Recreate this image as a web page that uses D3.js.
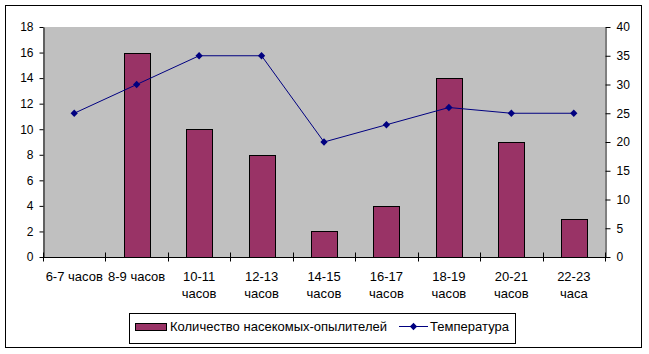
<!DOCTYPE html>
<html>
<head>
<meta charset="utf-8">
<script src="https://cdn.jsdelivr.net/npm/d3@7"></script>
<style>
  body { margin: 0; background: #fff; }
  text { font-family: "Liberation Sans", Arial, sans-serif; fill: #000; }
</style>
</head>
<body>
<div id="chart"></div>
<script>
// data
let categories = ["6-7 часов", "8-9 часов", "10-11 часов", "12-13 часов", "14-15 часов", "16-17 часов", "18-19 часов", "20-21 часов", "22-23 часа"];
let insects = [0, 16, 10, 8, 2, 4, 14, 9, 3];
let temperature = [25, 30, 35, 35, 20, 23, 26, 25, 25];
let leftTicks = [0, 2, 4, 6, 8, 10, 12, 14, 16, 18];
let rightTicks = [0, 5, 10, 15, 20, 25, 30, 35, 40];

let barColor = "#993366";
let lineColor = "#000080";
let plotBg = "#C0C0C0";

let W = 649, H = 354;
let plot = {left: 43, top: 27, right: 605, bottom: 257};

let svg = d3.select("#chart").append("svg")
    .attr("width", W)
    .attr("height", H);

// outer frame
svg.append("rect")
    .attr("x", 5.5).attr("y", 5.5)
    .attr("width", 636).attr("height", 342)
    .attr("fill", "#fff")
    .attr("stroke", "#000");

let x = d3.scaleBand()
    .domain(categories)
    .range([plot.left, plot.right])
    .paddingInner(0)
    .paddingOuter(0);

let yL = d3.scaleLinear().domain([0, 18]).range([plot.bottom, plot.top]);
let yR = d3.scaleLinear().domain([0, 40]).range([plot.bottom, plot.top]);

// plot area
svg.append("rect")
    .attr("x", plot.left).attr("y", plot.top)
    .attr("width", plot.right - plot.left)
    .attr("height", plot.bottom - plot.top)
    .attr("fill", plotBg);

// bars
let barW = 26;
svg.selectAll("rect.bar")
    .data(categories.map((c, i) => ({c: c, v: insects[i]})).filter(d => d.v > 0))
    .enter().append("rect")
    .attr("class", "bar")
    .attr("x", d => Math.round(x(d.c) + x.bandwidth() / 2 - barW / 2) + 0.5)
    .attr("y", d => Math.round(yL(d.v)) + 0.5)
    .attr("width", barW)
    .attr("height", d => Math.round(yL(0)) - Math.round(yL(d.v)))
    .attr("fill", barColor)
    .attr("stroke", "#000")
    .attr("stroke-width", 1);

// left axis
let gL = svg.append("g")
    .attr("transform", "translate(" + (plot.left + 0.5) + ",0)")
    .call(d3.axisLeft(yL).tickValues(leftTicks).tickSize(4).tickPadding(6).tickSizeOuter(0));
gL.selectAll("text").style("font-size", "12px").style("font-family", "Liberation Sans, Arial, sans-serif");

// right axis
let gR = svg.append("g")
    .attr("transform", "translate(" + (plot.right + 0.5) + ",0)")
    .call(d3.axisRight(yR).tickValues(rightTicks).tickSize(5).tickPadding(6).tickSizeOuter(0));
gR.selectAll("text").style("font-size", "12px").style("font-family", "Liberation Sans, Arial, sans-serif");

// bottom axis: ticks at category boundaries
let gB = svg.append("g")
    .attr("transform", "translate(0," + (plot.bottom + 0.5) + ")");
gB.append("line")
    .attr("x1", plot.left).attr("x2", plot.right + 1)
    .attr("stroke", "#000");
let bounds = categories.map(c => x(c)).concat([plot.right]);
gB.selectAll("line.tick")
    .data(bounds)
    .enter().append("line")
    .attr("class", "tick")
    .attr("x1", d => Math.round(d) + 0.5).attr("x2", d => Math.round(d) + 0.5)
    .attr("y1", -5).attr("y2", 4)
    .attr("stroke", "#000");

// category labels
categories.forEach(function(c, i) {
    let cx = x(c) + x.bandwidth() / 2;
    let parts = c.split(" ");
    let t = gB.append("text")
        .attr("text-anchor", "middle")
        .style("font-size", "13px");
    if (i < 2) {
        t.attr("x", cx).attr("y", 23).text(c);
    } else {
        t.append("tspan").attr("x", cx).attr("y", 23).text(parts[0]);
        t.append("tspan").attr("x", cx).attr("y", 40).text(parts[1]);
    }
});

// temperature line
let line = d3.line()
    .x((d, i) => x(categories[i]) + x.bandwidth() / 2)
    .y(d => yR(d));
svg.append("path")
    .datum(temperature)
    .attr("fill", "none")
    .attr("stroke", lineColor)
    .attr("stroke-width", 1)
    .attr("d", line);

let diamond = d3.symbol().type(d3.symbolDiamond2).size(34);
svg.selectAll("path.marker")
    .data(temperature)
    .enter().append("path")
    .attr("class", "marker")
    .attr("transform", (d, i) => "translate(" + (x(categories[i]) + x.bandwidth() / 2) + "," + yR(d) + ")")
    .attr("d", diamond)
    .attr("fill", lineColor);

// legend
let lg = svg.append("g");
lg.append("rect")
    .attr("x", 129.5).attr("y", 313.5)
    .attr("width", 386).attr("height", 30)
    .attr("fill", "#fff")
    .attr("stroke", "#000");
lg.append("rect")
    .attr("x", 135.5).attr("y", 323.5)
    .attr("width", 31).attr("height", 7)
    .attr("fill", barColor)
    .attr("stroke", "#000");
lg.append("text")
    .attr("x", 170).attr("y", 331)
    .style("font-size", "13px")
    .attr("textLength", 217)
    .attr("lengthAdjust", "spacing")
    .text("Количество насекомых-опылителей");
lg.append("line")
    .attr("x1", 399).attr("x2", 428)
    .attr("y1", 326.5).attr("y2", 326.5)
    .attr("stroke", lineColor);
lg.append("path")
    .attr("transform", "translate(413.5,326.5)")
    .attr("d", diamond)
    .attr("fill", lineColor);
lg.append("text")
    .attr("x", 430).attr("y", 331)
    .style("font-size", "13px")
    .attr("textLength", 79)
    .attr("lengthAdjust", "spacing")
    .text("Температура");
</script>
</body>
</html>
